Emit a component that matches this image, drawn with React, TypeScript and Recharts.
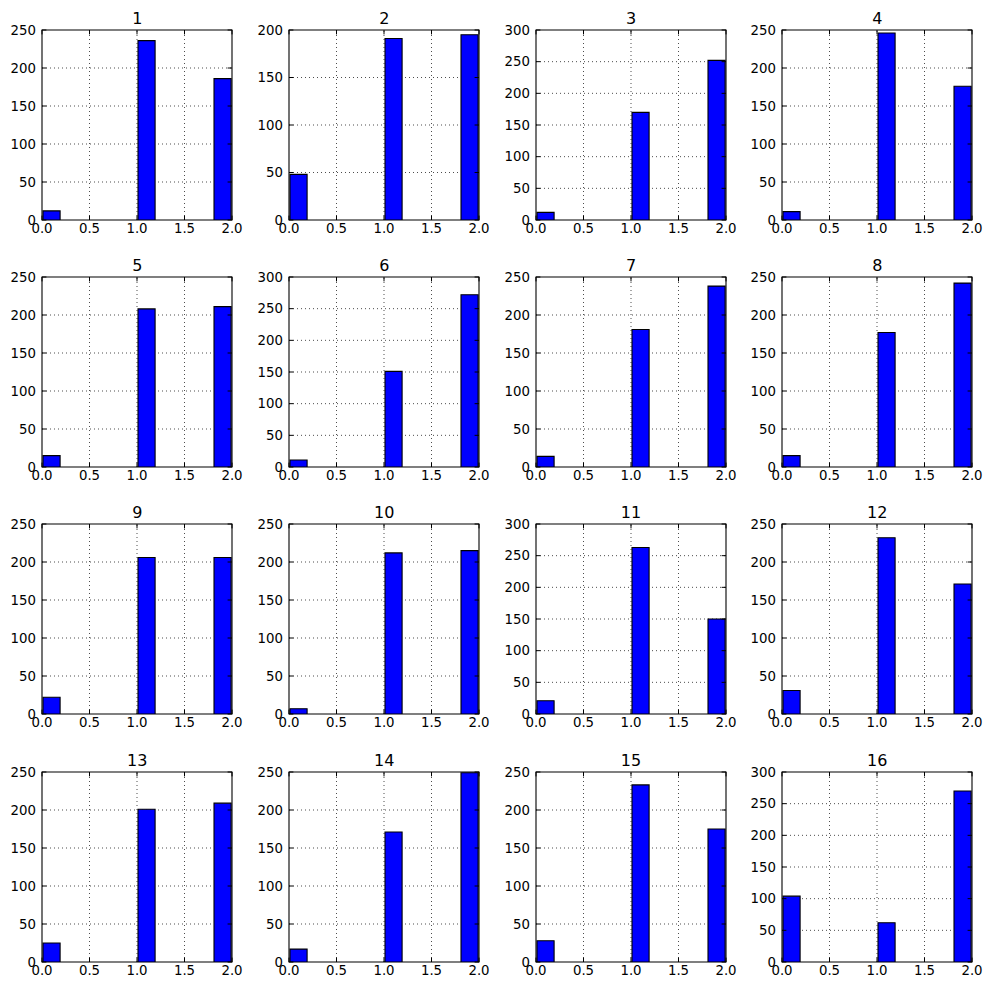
import React from 'react';
import { ComposedChart, Bar, XAxis, YAxis, ReferenceArea, ReferenceLine } from 'recharts';

// Histogram bins (10 bins of width 0.2 between 0 and 2): bin centers
const binCenters = [0.1, 0.3, 0.5, 0.7, 0.9, 1.1, 1.3, 1.5, 1.7, 1.9];
const xTicks = [0, 0.5, 1, 1.5, 2];
const xTickLabels = ['0.0', '0.5', '1.0', '1.5', '2.0'];
const yTicks200 = [0, 50, 100, 150, 200];
const yTicks250 = [0, 50, 100, 150, 200, 250];
const yTicks300 = [0, 50, 100, 150, 200, 250, 300];

const titles = ['1', '2', '3', '4', '5', '6', '7', '8', '9', '10', '11', '12', '13', '14', '15', '16'];

// counts per bin for each panel
const counts1 = [12, 0, 0, 0, 0, 236, 0, 0, 0, 186];
const counts2 = [48, 0, 0, 0, 0, 191, 0, 0, 0, 195];
const counts3 = [12, 0, 0, 0, 0, 170, 0, 0, 0, 252];
const counts4 = [11, 0, 0, 0, 0, 246, 0, 0, 0, 176];
const counts5 = [15, 0, 0, 0, 0, 208, 0, 0, 0, 211];
const counts6 = [11, 0, 0, 0, 0, 151, 0, 0, 0, 272];
const counts7 = [14, 0, 0, 0, 0, 181, 0, 0, 0, 238];
const counts8 = [15, 0, 0, 0, 0, 177, 0, 0, 0, 242];
const counts9 = [22, 0, 0, 0, 0, 206, 0, 0, 0, 206];
const counts10 = [7, 0, 0, 0, 0, 212, 0, 0, 0, 215];
const counts11 = [21, 0, 0, 0, 0, 263, 0, 0, 0, 150];
const counts12 = [31, 0, 0, 0, 0, 232, 0, 0, 0, 171];
const counts13 = [25, 0, 0, 0, 0, 201, 0, 0, 0, 209];
const counts14 = [17, 0, 0, 0, 0, 171, 0, 0, 0, 249];
const counts15 = [28, 0, 0, 0, 0, 233, 0, 0, 0, 175];
const counts16 = [104, 0, 0, 0, 0, 62, 0, 0, 0, 270];

const allCounts = [counts1, counts2, counts3, counts4, counts5, counts6, counts7, counts8,
  counts9, counts10, counts11, counts12, counts13, counts14, counts15, counts16];

const yTickSets = [
  yTicks250, yTicks200, yTicks300, yTicks250,
  yTicks250, yTicks300, yTicks250, yTicks250,
  yTicks250, yTicks250, yTicks300, yTicks250,
  yTicks250, yTicks250, yTicks250, yTicks300,
];

// layout
const colLefts = [42.3, 289.3, 536, 782.3];
const rowTops = [30, 277.3, 524.3, 771.7];
const PLOT = 190;
const ML = 40;
const MT = 28;
const MR = 17;
const MB = 29;
const TICK_LEN = 4.4;

const FONT = '"DejaVu Sans", sans-serif';
const FONT_SIZE = 13.3;
const GRID = { stroke: '#000', strokeWidth: 0.7, strokeDasharray: '1 3' };

function XTick(props: any) {
  const { x, y, payload } = props;
  const v = payload.value as number;
  const label = xTickLabels[xTicks.indexOf(v)] ?? String(v);
  return (
    <g>
      <line x1={x} x2={x} y1={MT + PLOT} y2={MT + PLOT - TICK_LEN} stroke="#000" strokeWidth={1} />
      <line x1={x} x2={x} y1={MT} y2={MT + TICK_LEN} stroke="#000" strokeWidth={1} />
      <text x={x} y={y} dy="0.76em" textAnchor="middle" fill="#000" fontSize={FONT_SIZE} fontFamily={FONT}>
        {label}
      </text>
    </g>
  );
}

function YTick(props: any) {
  const { x, y, payload } = props;
  return (
    <g>
      <line x1={ML} x2={ML + TICK_LEN} y1={y} y2={y} stroke="#000" strokeWidth={1} />
      <line x1={ML + PLOT} x2={ML + PLOT - TICK_LEN} y1={y} y2={y} stroke="#000" strokeWidth={1} />
      <text x={x} y={y} dy="0.36em" textAnchor="end" fill="#000" fontSize={FONT_SIZE} fontFamily={FONT}>
        {String(payload.value)}
      </text>
    </g>
  );
}

function Panel({ idx }: { idx: number }) {
  const counts = allCounts[idx];
  const yTicks = yTickSets[idx];
  const yMax = yTicks[yTicks.length - 1];
  const data = binCenters.map((c, i) => ({ center: c, count: counts[i] }));
  const plotLeft = colLefts[idx % 4];
  const plotTop = rowTops[Math.floor(idx / 4)];
  const left = plotLeft - ML;
  const top = plotTop - MT;

  return (
    <div style={{ position: 'absolute', left, top, width: ML + PLOT + MR, height: MT + PLOT + MB }}>
      <div
        style={{
          position: 'absolute',
          left: ML,
          width: PLOT,
          top: MT - 21,
          height: 20,
          lineHeight: '20px',
          textAlign: 'center',
          fontFamily: FONT,
          fontSize: 16,
          color: '#000',
        }}
      >
        {titles[idx]}
      </div>
      <ComposedChart
        width={ML + PLOT + MR}
        height={MT + PLOT + MB}
        data={data}
        margin={{ top: MT, right: MR, bottom: 0, left: 0 }}
      >
        <XAxis
          xAxisId="x"
          type="number"
          dataKey="center"
          domain={[0, 2]}
          allowDataOverflow
          ticks={xTicks}
          interval={0}
          height={MB}
          tickSize={0}
          tickMargin={3}
          tickLine={false}
          axisLine={false}
          tick={<XTick />}
        />
        <YAxis
          yAxisId="y"
          type="number"
          domain={[0, yMax]}
          allowDataOverflow
          ticks={yTicks}
          interval={0}
          width={ML}
          tickSize={0}
          tickMargin={6}
          tickLine={false}
          axisLine={false}
          tick={<YTick />}
        />
        {xTicks.slice(1, -1).map((v) => (
          <ReferenceLine key={`vx${v}`} xAxisId="x" yAxisId="y" x={v} {...GRID} zIndex={50} />
        ))}
        {yTicks.slice(1, -1).map((v) => (
          <ReferenceLine key={`hy${v}`} xAxisId="x" yAxisId="y" y={v} {...GRID} zIndex={50} />
        ))}
        <Bar
          xAxisId="x"
          yAxisId="y"
          dataKey="count"
          fill="#0000ff"
          stroke="#000"
          strokeWidth={1.1}
          barSize={19}
          isAnimationActive={false}
        />
        <ReferenceArea
          xAxisId="x"
          yAxisId="y"
          x1={0}
          x2={2}
          y1={0}
          y2={yMax}
          fill="none"
          fillOpacity={0}
          stroke="#000"
          strokeWidth={1.1}
          strokeOpacity={1}
          ifOverflow="visible"
        />
      </ComposedChart>
    </div>
  );
}

export default function App() {
  return (
    <div style={{ position: 'absolute', left: 0, top: 0, width: 993, height: 990, background: '#fff' }}>
      {titles.map((t, i) => (
        <Panel key={t} idx={i} />
      ))}
    </div>
  );
}
